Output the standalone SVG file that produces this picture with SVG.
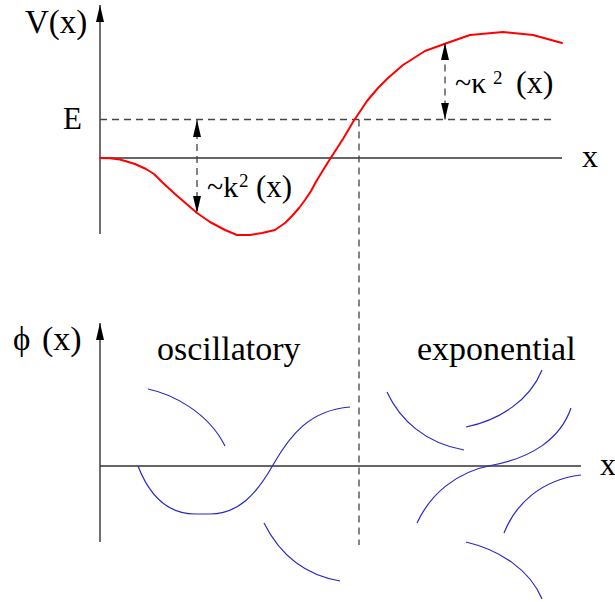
<svg xmlns="http://www.w3.org/2000/svg" width="615" height="602" viewBox="0 0 615 602">
<style>
.axis{stroke:#333;stroke-width:1.4;fill:none}
.dash{stroke:#444;stroke-width:1.3;fill:none;stroke-dasharray:7,5}
.red{stroke:#f00;stroke-width:2;fill:none;stroke-linejoin:round;stroke-linecap:round}
.blue{stroke:#2828c8;stroke-width:1.2;fill:none}
text{font-family:"Liberation Serif","Times New Roman",serif;fill:#000}
</style>
<defs>
<marker id="arr" markerUnits="userSpaceOnUse" markerWidth="17" markerHeight="8" viewBox="0 0 17 8" refX="17" refY="4" orient="auto-start-reverse">
<path d="M0,0 L17,4 L0,8 Z" fill="#000"/>
</marker>
</defs>
<rect width="615" height="602" fill="#fff"/>

<g id="top-plot">
<g id="top-axes">
<line class="axis" x1="100" y1="234" x2="100" y2="5" marker-end="url(#arr)"/>
<line class="axis" x1="100" y1="158" x2="562" y2="158"/>
</g>
<g id="top-dashed">
<line class="dash" x1="100" y1="119.5" x2="556" y2="119.5"/>
<line class="dash" x1="359" y1="119.5" x2="359" y2="545"/>
</g>
<path id="potential" class="red" d="M100,158 L110,158.3 L120,159.5 L135,164 L146,169 L154,174 L162,182 L175,194 L197,213 L210,222 L225,230 L237,235 L250,235 L262,233 L275,230 L285,223 L292,216 L299,208 L305,200 L311,191 L317,180 L330,159 L343,139 L353,122 L367,101 L378,88 L388,78 L403,65 L425,51 L447,43 L470,35 L503,32 L533,35 L562,43"/>
<g id="connectors">
<line class="dash" stroke="#000" x1="197" y1="120" x2="197" y2="213" marker-start="url(#arr)" marker-end="url(#arr)"/>
<line class="dash" stroke="#000" x1="445" y1="119.5" x2="445" y2="43" marker-start="url(#arr)" marker-end="url(#arr)"/>
</g>
<g id="top-labels">
<text x="25" y="33" font-size="33">V(x)</text>
<text x="63" y="129" font-size="31">E</text>
<text x="582" y="167" font-size="32">x</text>
<text x="207" y="197" font-size="30">~k</text>
<text x="239" y="187" font-size="19">2</text>
<text x="256" y="197" font-size="31">(x)</text>
<text x="455" y="93" font-size="30">~κ</text>
<text x="493" y="84" font-size="19">2</text>
<text x="516" y="93" font-size="32">(x)</text>
</g>
</g>

<g id="bottom-plot">
<g id="bottom-axes">
<line class="axis" x1="100" y1="542" x2="100" y2="323" marker-end="url(#arr)"/>
<line class="axis" x1="100" y1="466" x2="581" y2="466"/>
</g>
<g id="wavefunctions">
<path class="blue" d="M148,389 C172,394 208,412 225,446"/>
<path class="blue" d="M138,466 C150,497 168,514 195,514 C200,514 205,514 210,514 C238,514 256,495 273,465 C290,435 310,410 350,407"/>
<path class="blue" d="M264,523 C280,555 305,575 340,581"/>
<path class="blue" d="M387,392 C400,420 425,443 464,450"/>
<path class="blue" d="M466,427 C500,420 530,400 542,370"/>
<path class="blue" d="M417,523 C430,495 455,472 493,465 C530,458 560,440 571,408"/>
<path class="blue" d="M504,533 C515,505 540,480 581,475"/>
<path class="blue" d="M466,542 C500,550 530,570 542,599"/>
</g>
<g id="bottom-labels">
<text x="13" y="350" font-size="33">ϕ</text>
<text x="42" y="350" font-size="34">(x)</text>
<text x="157" y="360" font-size="34">oscillatory</text>
<text x="417" y="360" font-size="34">exponential</text>
<text x="600" y="475" font-size="32">x</text>
</g>
</g>
</svg>
